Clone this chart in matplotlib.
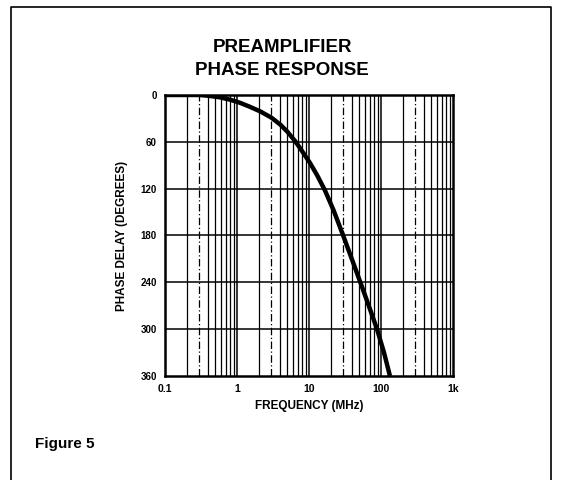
import numpy as np
import matplotlib.pyplot as plt
from matplotlib.lines import Line2D

plt.rcParams['font.family'] = ['Liberation Sans', 'DejaVu Sans']

# phase delay
freq = [0.1, 0.2, 0.3, 0.4, 0.58, 0.8, 1.1, 1.5, 2.1, 3, 4, 5, 6.4, 7.5, 10.3,
        13, 16.6, 22, 29.8, 40, 56, 70, 88, 110, 133]
phase = [0, 0, 0, 1, 3, 6, 10, 15, 21, 29, 38, 47, 59, 68, 87,
         103, 122, 148, 180, 212, 249, 274, 300, 330, 360]
yticks = [0, 60, 120, 180, 240, 300, 360]
xticks = [0.1, 1, 10, 100, 1000]
xticklabels = ['0.1', '1', '10', '100', '1k']

fig = plt.figure(figsize=(5.62, 4.8), dpi=100)
ax = fig.add_axes([0.2936, 0.2167, 0.5125, 0.5854])

ax.set_xscale('log')
ax.set_xlim(0.1, 1000)
ax.set_ylim(360, 0)

ax.plot(freq, phase, color='k', lw=3.2, solid_capstyle='butt',
        solid_joinstyle='round', zorder=5)

# grid
for dec in [0.1, 1, 10, 100]:
    for m in range(2, 10):
        ls = (0, (6, 2, 1, 2)) if m == 3 else '-'
        ax.axvline(dec * m, color='k', lw=0.9, ls=ls, zorder=1)
for d in [1, 10, 100]:
    ax.axvline(d, color='k', lw=1.1, zorder=1)
for v in yticks[1:-1]:
    ax.axhline(v, color='k', lw=1.1, zorder=1)

ax.set_yticks(yticks)
ax.set_yticklabels([str(v) for v in yticks], fontsize=7, fontweight='bold')
ax.set_xticks(xticks)
ax.set_xticklabels(xticklabels, fontsize=7.5, fontweight='bold')
ax.xaxis.set_minor_locator(plt.NullLocator())
ax.tick_params(length=0, pad=6)
for s in ax.spines.values():
    s.set_linewidth(1.8)

ax.set_xlabel('FREQUENCY (MHz)', fontsize=8.5, fontweight='bold', labelpad=4)
ax.set_ylabel('PHASE DELAY (DEGREES)', fontsize=8.5, fontweight='bold', labelpad=9)

fig.text(0.502, 0.877, 'PREAMPLIFIER\nPHASE RESPONSE', ha='center', va='center',
         fontsize=13.5, fontweight='bold', linespacing=1.45)
fig.text(0.062, 0.075, 'Figure 5', fontsize=11, fontweight='bold', va='center')

# page border
fig.add_artist(Line2D([0.019, 0.019, 0.981, 0.981], [0, 0.986, 0.986, 0], color='k', lw=1.2))

fig.savefig('out.png', dpi=100)
